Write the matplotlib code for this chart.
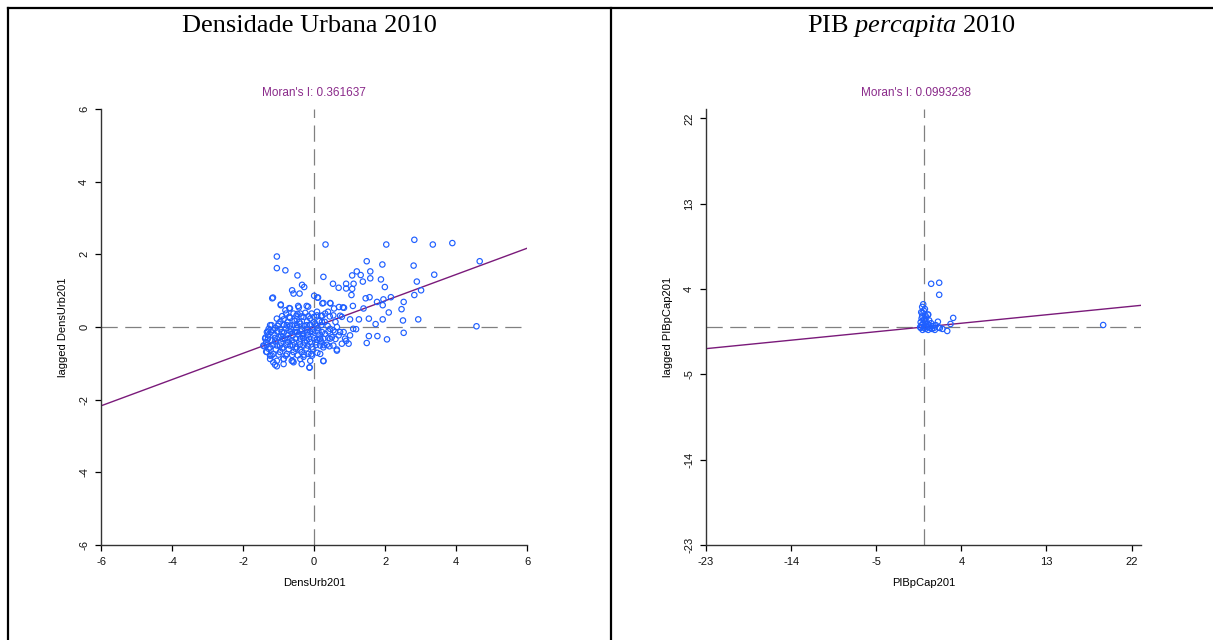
import matplotlib
matplotlib.use("Agg")
import matplotlib.pyplot as plt
from matplotlib.lines import Line2D
import numpy as np

plt.rcParams['font.family'] = ['Liberation Sans', 'DejaVu Sans']
plt.rcParams['mathtext.fontset'] = 'custom'
plt.rcParams['mathtext.rm'] = 'Liberation Serif'
plt.rcParams['mathtext.it'] = 'Liberation Serif:italic'

# ---------------- data ----------------
titles = ["Densidade Urbana 2010", "PIB $\\mathit{percapita}$ 2010"]
xlabels = ["DensUrb201", "PIBpCap201"]
ylabels = ["lagged DensUrb201", "lagged PIBpCap201"]
moran_values = [0.361637, 0.0993238]
moran_labels = ["Moran's I: 0.361637", "Moran's I: 0.0993238"]
ticks_left = [-6, -4, -2, 0, 2, 4, 6]
ticks_right = [-23, -14, -5, 4, 13, 22]
lim_left = [-6, 6]
lim_right = [-23, 23]

# left panel points (standardised urban density vs spatial lag)
dens_x = [
    0.32, 2.03, 2.82, 3.34, 3.89, 4.66, 4.57, -1.05, -1.05, -0.81, -0.47, 1.48, 1.92, 2.80,
    3.38, 2.89, 3.01, 2.82, 2.52, 2.46, 2.50, 2.93, 2.52, 2.05, 1.78, 1.54, 1.48, 0.26,
    -0.13, -1.05, 1.20, 1.07, 1.31, 1.58, 1.58, 1.37, 1.11, 0.90, 0.69, 0.53, 0.26, 1.07,
    0.90, 1.05, 1.88, 1.99, 2.16, 1.95, 1.77, 1.56, 1.45, 1.09, 0.81, 0.56, 0.45, 0.26,
    1.93, 2.10, 1.93, 1.73, 1.54, 1.39, 1.26, 1.01, 1.18, 0.83, 0.90, 0.64, 0.43, 0.26,
    0.09, -0.60, -1.18, -0.94, -0.62, -0.58, -0.41, -0.34, -0.28, 0.00, 0.11, -0.68, -0.43,
    -0.17, -0.81, -0.47, 0.08, 0.39, 0.60, 0.73, 0.23, -1.37, -1.30, -1.41, -1.35, -1.24,
    -1.15, -0.86, -0.30, -0.08, 0.45, 0.17, 1.10,
    -1.16, -0.94, -0.70, -0.45, -0.21, 0.09, 0.23, 0.46, 0.70, 0.84,
    -0.79, -0.58, -0.39, -0.25, -0.07, 0.31, 0.54, 0.78,
    -1.05, -0.86, -0.68, -0.49, -0.30, -0.11, 0.08,
    -1.24, -1.00, -0.77, -0.58, -0.39, -0.21, 0.03, 0.22,
    0.45, 0.59, 0.69, 0.50, 0.54, 0.64, 0.73,
    -1.33, -1.15, -0.91, -0.72, -0.54, -0.30, -0.11, 0.12, 0.31,
    -1.38, -1.19, -1.00, -0.82, -0.63, -0.39, -0.21, 0.08, 0.26, 0.87, 1.01,
    -1.43, -1.24, -1.05, -0.86, -0.68, -0.49, -0.30, -0.07, 0.17, 0.36, 0.54, 0.78, 0.97,
    -1.33, -1.15, -0.96, -0.77, -0.58, -0.35, -0.16, 0.17, 0.64,
    -1.24, -1.05, -0.86, -0.63, -0.39, -0.11, 0.26,
    -1.10, -0.86, -0.58, -0.35, -0.13,
    -1.28, -1.10, -0.95, -0.80, -0.66, -0.50, -0.35, -0.20, -0.05, 0.10,
    -1.30, -1.12, -0.93, -0.75, -0.60, -0.45, -0.33, -0.18, -0.02, 0.15,
    -1.35, -1.10, -0.93, -0.74, -0.57, -0.42, -0.26, -0.12, 0.04, 0.20,
    -1.28, -1.08, -0.90, -0.72, -0.52, -0.40, -0.22, -0.03,
    -0.95, -0.75, -0.55, -0.42, -0.20, -0.02, 0.14, 0.30,
    -1.20, -1.02, -0.85, -0.68, -0.48, -0.28, -0.12, 0.05, 0.20, 0.38,
    -1.22, -1.04, -0.85, -0.66, -0.48, -0.38, -0.20, -0.04, 0.22, 0.40,
    -1.30, -1.10, -0.90, -0.72, -0.52, -0.30, -0.14, 0.00, 0.16, 0.40, 0.60,
    -1.34, -1.15, -0.96, -0.78, -0.60, -0.40, -0.18, 0.06, 0.27,
    -1.20, -1.00, -0.80, -0.62, -0.46, -0.28, -0.06,
    -0.90, -0.70, -0.50, -0.36, -0.16, 0.00, 0.20, 0.44,
]
dens_lag = [
    2.27, 2.27, 2.40, 2.27, 2.31, 1.81, 0.02, 1.94, 1.62, 1.56, 1.42, 1.81, 1.72, 1.69,
    1.44, 1.25, 1.01, 0.88, 0.69, 0.49, 0.18, 0.21, -0.16, -0.34, -0.25, -0.25, -0.44, -0.94,
    -1.12, -1.08, 1.53, 1.42, 1.43, 1.53, 1.34, 1.25, 1.19, 1.19, 1.08, 1.19, 1.38, 1.05,
    1.06, 0.88, 1.31, 1.10, 0.82, 0.76, 0.69, 0.82, 0.79, 0.58, 0.54, 0.51, 0.66, 0.66,
    0.60, 0.40, 0.21, 0.08, 0.23, 0.51, 0.21, 0.21, -0.06, -0.14, -0.38, -0.62, -0.53, -0.56,
    -0.71, -0.94, 0.79, 0.62, 1.01, 0.92, 0.92, 1.16, 1.10, 0.86, 0.81, 0.51, 0.54,
    0.56, 0.46, 0.36, 0.42, 0.42, 0.14, 0.31, 0.31, -0.29, -0.12, -0.53, -0.68, -0.79,
    -0.97, -0.88, -0.82, -0.75, -0.32, -0.32, -0.05,
    0.81, 0.60, 0.52, 0.58, 0.58, 0.81, 0.65, 0.65, 0.55, 0.53,
    0.37, 0.37, 0.37, 0.39, 0.37, 0.37, 0.32, 0.28,
    0.23, 0.21, 0.25, 0.21, 0.28, 0.23, 0.32,
    0.05, 0.09, 0.05, 0.06, 0.09, 0.05, 0.09, 0.14,
    -0.05, -0.14, -0.23, -0.28, -0.09, 0.00, -0.14,
    -0.14, -0.09, -0.14, -0.09, -0.14, -0.19, -0.14, -0.12, -0.19,
    -0.32, -0.37, -0.28, -0.32, -0.37, -0.32, -0.37, -0.35, -0.32, -0.32, -0.23,
    -0.51, -0.56, -0.51, -0.56, -0.51, -0.56, -0.51, -0.56, -0.51, -0.49, -0.51, -0.46, -0.46,
    -0.69, -0.74, -0.69, -0.74, -0.69, -0.69, -0.74, -0.74, -0.65,
    -0.88, -0.93, -0.88, -0.93, -0.88, -0.93, -0.93,
    -1.04, -1.02, -0.97, -1.02, -1.11,
    -0.05, -0.03, -0.06, -0.04, -0.05, -0.03, -0.06, -0.04, -0.05, -0.03,
    -0.23, -0.21, -0.24, -0.22, -0.23, -0.21, -0.24, -0.22, -0.23, -0.21,
    -0.42, -0.40, -0.43, -0.41, -0.42, -0.40, -0.43, -0.41, -0.42, -0.40,
    -0.60, -0.62, -0.59, -0.61, -0.60, -0.62, -0.59, -0.61,
    0.15, 0.13, 0.16, 0.14, 0.15, 0.13, 0.16, 0.14,
    0.05, 0.03, 0.06, 0.04, 0.05, 0.03, 0.06, 0.04, 0.05, 0.03,
    -0.14, -0.12, -0.15, -0.13, -0.14, -0.12, -0.15, -0.13, -0.14, -0.12,
    -0.32, -0.30, -0.33, -0.31, -0.32, -0.30, -0.33, -0.31, -0.32, -0.30, -0.33,
    -0.50, -0.48, -0.51, -0.49, -0.50, -0.48, -0.51, -0.49, -0.50,
    -0.78, -0.76, -0.79, -0.77, -0.78, -0.76, -0.79,
    0.30, 0.28, 0.31, 0.29, 0.30, 0.28, 0.31, 0.29,
]

# right panel points (standardised GDP per capita vs spatial lag)
pib_x = [
    0.81, 1.66, 1.66, 19.0, 3.14, 2.86, 2.51, 1.52, -0.14, 0.03, 0.50, -0.14, 0.11, -0.03,
    -0.24, 0.21, 0.46, 0.03, 1.73, 1.60,
    -0.30, -0.20, -0.30, -0.10, 0.00, 0.10, 0.20, 0.30, 0.40, 0.50, 0.60, 0.70, 0.80, 0.90,
    1.00, 1.20, 1.30, -0.20, 0.20, 0.60, -0.35, 0.05, 0.25, 0.45, 1.10, 2.00, 0.30, -0.10, 0.15,
]
pib_lag = [
    4.56, 4.67, 3.40, 0.21, 0.96, 0.32, -0.42, 0.56, 2.12, 1.73, 1.31, 1.13, 0.78, 2.40,
    1.56, 1.20, 1.31, 0.78, -0.11, -0.05,
    0.50, 0.20, -0.10, -0.30, 0.40, 0.10, -0.20, 0.30, 0.00, -0.30, 0.20, -0.10, 0.40, -0.20,
    0.10, -0.30, 0.20, 0.90, 0.60, 0.70, 0.00, -0.05, 0.05, 0.35, -0.10, -0.20, 1.00, 1.50, 1.90,
]

# ---------------- style ----------------
W, H = 1213, 640
fig = plt.figure(figsize=(W / 100, H / 100), dpi=100)
fig.patch.set_facecolor('white')

pt_color = '#1f5fff'
line_color = '#7a1a7a'
moran_color = '#8a2a8a'
dash_color = '#808080'
axis_color = '#333333'

panels = [
    dict(rect=[101 / W, 1 - 545 / H, 426.3 / W, 436 / H], x=dens_x, y=dens_lag,
         lim=lim_left, ticks=ticks_left, moran=moran_values[0], mlabel=moran_labels[0],
         xl=xlabels[0], yl=ylabels[0], mx=314 / W, title=titles[0], tx=309.5 / W),
    dict(rect=[706 / W, 1 - 545 / H, 435 / W, 436 / H], x=pib_x, y=pib_lag,
         lim=lim_right, ticks=ticks_right, moran=moran_values[1], mlabel=moran_labels[1],
         xl=xlabels[1], yl=ylabels[1], mx=916 / W, title=titles[1], tx=912 / W),
]

for p in panels:
    ax = fig.add_axes(p['rect'])
    lo, hi = p['lim']
    ax.set_xlim(lo, hi)
    ax.set_ylim(lo, hi)
    ax.axhline(0, color=dash_color, lw=0.9, dashes=(13, 6), zorder=1)
    ax.axvline(0, color=dash_color, lw=0.9, dashes=(13, 6), zorder=1)
    xs = np.array([lo, hi])
    ax.plot(xs, p['moran'] * xs, color=line_color, lw=1.0, zorder=2)
    ax.scatter(p['x'], p['y'], s=15, facecolors='none', edgecolors=pt_color,
               linewidths=0.85, zorder=3)
    for s in ['top', 'right']:
        ax.spines[s].set_visible(False)
    for s in ['left', 'bottom']:
        ax.spines[s].set_color(axis_color)
        ax.spines[s].set_linewidth(1.0)
    ax.set_xticks(p['ticks'])
    ax.set_yticks(p['ticks'])
    ax.set_xticklabels([str(t) for t in p['ticks']])
    ax.set_yticklabels([str(t) for t in p['ticks']], rotation=90, va='center')
    ax.tick_params(axis='both', length=4.5, width=0.9, color='black', labelsize=8,
                   pad=4, labelcolor='#111111')
    ax.set_xlabel(p['xl'], fontsize=8, labelpad=8)
    ax.set_ylabel(p['yl'], fontsize=8, labelpad=8)
    ax.set_facecolor('white')
    fig.text(p['mx'], 1 - 93 / H, p['mlabel'], color=moran_color, fontsize=8.5,
             ha='center', va='center')
    fig.text(p['tx'], 1 - 26 / H, p['title'], fontsize=19, ha='center', va='center',
             family='Liberation Serif')

# table borders
lw_b = 1.6
fig.add_artist(Line2D([8 / W, 8 / W], [0, 1 - 8 / H], color='black', lw=lw_b,
                      transform=fig.transFigure))
fig.add_artist(Line2D([8 / W, 1], [1 - 8 / H, 1 - 8 / H], color='black', lw=lw_b,
                      transform=fig.transFigure))
fig.add_artist(Line2D([611 / W, 611 / W], [0, 1 - 8 / H], color='black', lw=lw_b,
                      transform=fig.transFigure))

fig.savefig('out.png', dpi=100, facecolor='white')
